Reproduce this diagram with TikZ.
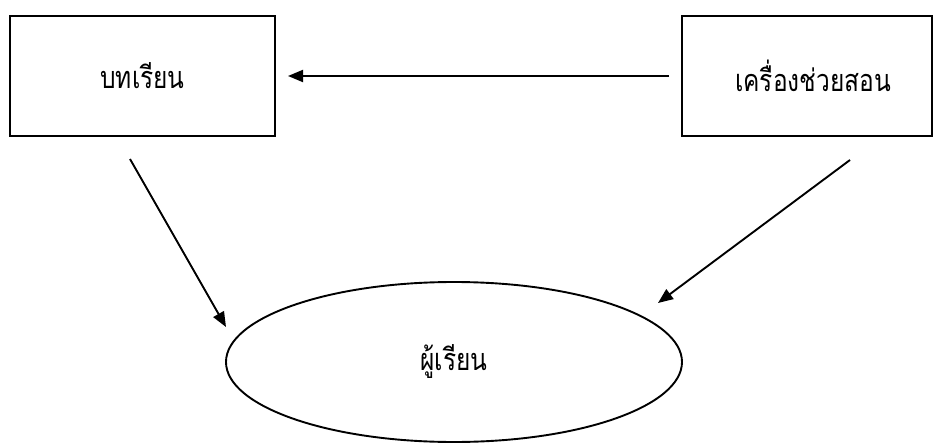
\documentclass[tikz,border=0pt]{standalone}
\usepackage{fontspec}
\newfontfamily\thaifont[Script=Thai]{Loma}
\usetikzlibrary{shapes.geometric,arrows.meta}
\newcommand{\thtext}[1]{\scalebox{1}[1.25]{#1}}
\tikzset{
  box/.style={draw, line width=2pt, rectangle, font=\thaifont\fontsize{24.5}{29}\selectfont, inner sep=0pt},
  oval/.style={draw, line width=1.9pt, ellipse, font=\thaifont\fontsize{24.5}{29}\selectfont, inner sep=0pt, minimum width=456pt, minimum height=160pt},
  link/.style={line width=1.9pt, -{Triangle[length=15pt,width=12pt]}}
}
\begin{document}
\begin{tikzpicture}[x=1pt,y=-1pt]
\useasboundingbox (0,0) rectangle (935,444);
\node[box, minimum width=265pt, minimum height=120pt] (lesson) at (142.5,76) {\thtext{บทเรียน}};
\node[box, minimum width=250pt, minimum height=120pt] (tools) at (807,76) {\hspace*{12pt}\thtext{เครื่องช่วยสอน}};
\node[oval] (learner) at (454,362) {\thtext{ผู้เรียน}};
\coordinate (a1) at (130,159);
\coordinate (a2) at (226,327);
\coordinate (b1) at (850,160);
\coordinate (b2) at (658,303);
\draw[link, shorten <=12pt, shorten >=12pt] (tools.west) -- (lesson.east);
\draw[link] (a1) -- (a2);
\draw[link] (b1) -- (b2);
\end{tikzpicture}
\end{document}
